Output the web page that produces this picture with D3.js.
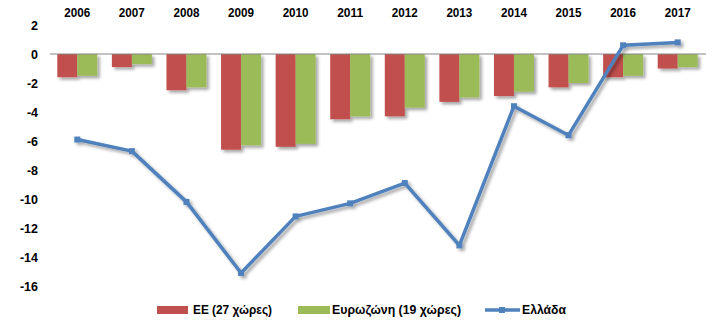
<!DOCTYPE html>
<html><head><meta charset="utf-8">
<script src="https://cdn.jsdelivr.net/npm/d3@7/dist/d3.min.js"></script>
<style>
html,body{margin:0;padding:0;background:#fff;}
svg text{font-family:"Liberation Sans",Arial,sans-serif;font-weight:bold;fill:#000;}
</style></head>
<body><svg id="c" width="718" height="335"></svg>
<script>
const years = ["2006","2007","2008","2009","2010","2011","2012","2013","2014","2015","2016","2017"];
const eu27 = [-1.6,-0.9,-2.5,-6.6,-6.4,-4.5,-4.3,-3.3,-2.9,-2.3,-1.6,-1.0];
const euro19 = [-1.5,-0.7,-2.3,-6.3,-6.2,-4.3,-3.7,-3.0,-2.6,-2.0,-1.5,-0.9];
const greece = [-5.9,-6.7,-10.2,-15.1,-11.2,-10.3,-8.9,-13.2,-3.6,-5.6,0.6,0.8];
const yTicks = [2,0,-2,-4,-6,-8,-10,-12,-14,-16];
const seriesNames = ["ΕΕ (27 χώρες)","Ευρωζώνη (19 χώρες)","Ελλάδα"];
const colors = ["#C0504D","#9BBB59","#4F81BD"];

const svg = d3.select("#c");
const defs = svg.append("defs");
const f = defs.append("filter").attr("id","sh").attr("x","-20%").attr("y","-20%").attr("width","150%").attr("height","150%");
f.append("feDropShadow").attr("dx",2.5).attr("dy",2.5).attr("stdDeviation",1.5).attr("flood-color","#000").attr("flood-opacity",0.35);

const x = d3.scaleBand().domain(years).range([50,705]).padding(0);
const xs = d3.scaleBand().domain([0,1]).range([0,x.bandwidth()]).paddingInner(0).paddingOuter(0.365);
const y = d3.scaleLinear().domain([-16,2]).range([286,25]);

// year labels on top
const gx = svg.append("g").attr("transform","translate(0,17)")
  .call(d3.axisTop(x).tickSize(0).tickPadding(0));
gx.select(".domain").remove();
gx.selectAll("text").style("font-size","12.5px").attr("dy","0").attr("textLength",26).attr("lengthAdjust","spacingAndGlyphs");

// y axis
const gy = svg.append("g").attr("transform","translate(38,0)")
  .call(d3.axisLeft(y).tickValues(yTicks).tickSize(0).tickPadding(0).tickFormat(d=>String(d)));
gy.select(".domain").remove();
gy.selectAll("text").style("font-size","12.5px");

// bars
const data = years.map((yr,i)=>({yr, v:[eu27[i],euro19[i]]}));
const gb = svg.append("g").attr("filter","url(#sh)");
data.forEach(d=>{
  d.v.forEach((v,k)=>{
    gb.append("rect")
      .attr("x", x(d.yr)+xs(k))
      .attr("width", xs.bandwidth())
      .attr("y", Math.min(y(0),y(v)))
      .attr("height", Math.abs(y(v)-y(0)))
      .attr("fill", colors[k]);
  });
});

// zero line
svg.append("line").attr("x1",50).attr("x2",706).attr("y1",y(0)).attr("y2",y(0))
  .attr("stroke","#868686").attr("stroke-width",1);

// greece line
const line = d3.line().x((d,i)=>x(years[i])+x.bandwidth()/2).y(d=>y(d));
const gl = svg.append("g").attr("filter","url(#sh)");
gl.append("path").datum(greece).attr("d",line).attr("fill","none")
  .attr("stroke",colors[2]).attr("stroke-width",3.5).attr("stroke-linejoin","round");
gl.selectAll("rect.m").data(greece).enter().append("rect")
  .attr("x",(d,i)=>x(years[i])+x.bandwidth()/2-3).attr("y",d=>y(d)-3)
  .attr("width",6).attr("height",6).attr("fill",colors[2]);

// legend
const lg = svg.append("g");
const ly = 310;
const fs = "12.5px";
lg.append("rect").attr("x",157).attr("y",ly-4).attr("width",31).attr("height",8).attr("fill",colors[0]);
lg.append("text").attr("x",193).attr("y",ly).attr("dy","0.35em").style("font-size",fs)
  .attr("textLength",79).attr("lengthAdjust","spacingAndGlyphs").text(seriesNames[0]);
lg.append("rect").attr("x",298).attr("y",ly-4).attr("width",32).attr("height",8).attr("fill",colors[1]);
lg.append("text").attr("x",332).attr("y",ly).attr("dy","0.35em").style("font-size",fs)
  .attr("textLength",129).attr("lengthAdjust","spacingAndGlyphs").text(seriesNames[1]);
lg.append("line").attr("x1",485).attr("x2",520).attr("y1",ly).attr("y2",ly).attr("stroke",colors[2]).attr("stroke-width",3.5);
lg.append("rect").attr("x",499).attr("y",ly-3).attr("width",6).attr("height",6).attr("fill",colors[2]);
lg.append("text").attr("x",522).attr("y",ly).attr("dy","0.35em").style("font-size",fs)
  .attr("textLength",44).attr("lengthAdjust","spacingAndGlyphs").text(seriesNames[2]);
</script></body></html>
